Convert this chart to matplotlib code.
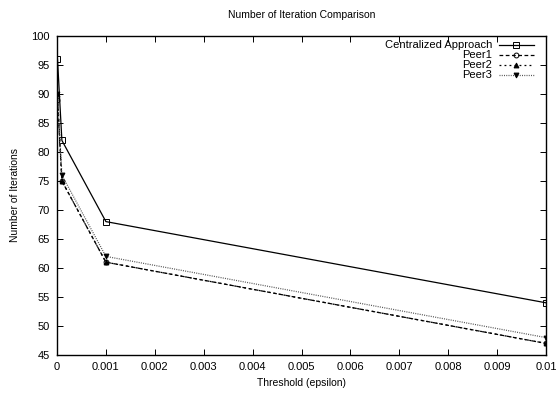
import numpy as np
import matplotlib
matplotlib.use("Agg")
from matplotlib import pyplot as plt

plt.rcParams['font.family'] = ['Liberation Sans', 'DejaVu Sans']
plt.rcParams['font.size'] = 7.5

thresh = [0.00001, 0.0001, 0.001, 0.01]
central = [96, 82, 68, 54]
peer1 = [89, 75, 61, 47]
peer2 = [90, 75, 61, 47]
peer3 = [90, 76, 62, 48]

fig = plt.figure(figsize=(5.58, 3.95), dpi=100)
ax = fig.add_axes([57/558, 40/395, 489/558, 319/395])

ax.plot(thresh, central, '-', color='black', lw=0.9, marker='s', ms=4,
        mfc='none', mew=0.7, label='Centralized Approach')
ax.plot(thresh, peer1, '--', color='black', lw=0.9, marker='o', ms=3.5,
        mfc='none', mew=0.7, dashes=(3, 2), label='Peer1')
ax.plot(thresh, peer2, ':', color='black', lw=0.9, marker='^', ms=3.5,
        mfc='black', mew=0.7, dashes=(1.5, 2.5), label='Peer2')
ax.plot(thresh, peer3, ':', color='#555555', lw=0.9, marker='v', ms=3.5,
        mfc='black', mec='black', mew=0.7, dashes=(0.8, 1), label='Peer3')

ax.set_xlim(0, 0.01)
ax.set_ylim(45, 100)
ax.set_xticks(np.arange(0, 0.0101, 0.001))
ax.set_xticklabels(['0', '0.001', '0.002', '0.003', '0.004', '0.005',
                    '0.006', '0.007', '0.008', '0.009', '0.01'])
ax.set_yticks(range(45, 101, 5))
ax.tick_params(direction='in', top=True, right=True, length=4, width=0.7,
               pad=5, labelsize=8)
for s in ax.spines.values():
    s.set_linewidth(1)

ax.set_xlabel('Threshold (epsilon)')
ax.set_ylabel('Number of Iterations', labelpad=8)
ax.set_title('Number of Iteration Comparison', fontsize=7.5, pad=13)

leg = ax.legend(loc='upper right', bbox_to_anchor=(0.985, 1.0), frameon=False,
                markerfirst=False, handlelength=3.2, handletextpad=0.6,
                labelspacing=0.0, borderaxespad=0.2, borderpad=0.2, fontsize=8)
for t in leg.get_texts():
    t.set_ha('right')
leg._legend_box.align = 'right'

fig.savefig('out.png', dpi=100)
